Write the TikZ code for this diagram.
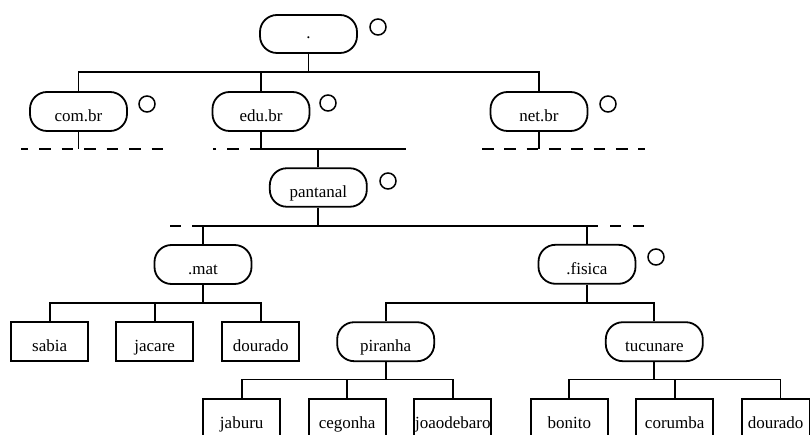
\documentclass[tikz,border=0pt]{standalone}
\usepackage{fontspec}
\setmainfont{Liberation Serif}
\begin{document}
\begin{tikzpicture}[x=1pt,y=-1pt,
  ln/.style={line width=1.8pt},
  rbox/.style={draw,line width=1.8pt,rounded corners=17pt,minimum width=97pt,minimum height=39pt,
    inner sep=0pt,text height=20pt,text depth=0pt,font=\fontsize{17}{20}\selectfont},
  sbox/.style={draw,line width=1.8pt,minimum width=77pt,minimum height=39pt,
    inner sep=0pt,text height=20pt,text depth=0pt,font=\fontsize{17}{20}\selectfont},
  ring/.style={draw,circle,line width=1.5pt,minimum size=16pt,inner sep=0pt},
  dsh/.style={line width=1.8pt,dash pattern=on 11.5pt off 11pt}]
\clip (0,0) rectangle (811,435);
% level 0
\node[rbox,minimum height=38pt,text height=10pt] (root) at (308.5,34) {.};
\node[ring] (d0) at (378,27) {};
% level 1
\node[rbox] (com) at (78.5,111.5) {com.br};
\node[ring] (dcom) at (147,104) {};
\node[rbox] (edu) at (261,111.5) {edu.br};
\node[ring] (dedu) at (328,103) {};
\node[rbox] (net) at (539,111.5) {net.br};
\node[ring] (dnet) at (608,104) {};
\coordinate (j0) at (309,72);
\draw[ln] (root.south) -- (root.south |- j0);
\draw[ln] (com.north) -- (com.north |- j0) -- (net.north |- j0) -- (net.north);
\draw[ln] (edu.north) -- (edu.north |- j0);
% level 1 bottom lines
\coordinate (comL) at (21,149);
\coordinate (comR) at (165,149);
\coordinate (eduL) at (212.7,149);
\coordinate (eduR) at (406,149);
\coordinate (netL) at (482,149);
\coordinate (netR) at (645,149);
\draw[ln] (com.south) -- (com.south |- comL);
\draw[dsh,dash phase=4.5pt] (comL) -- (comR);
\draw[ln] (edu.south) -- (edu.south |- eduL) -- (eduR);
\draw[dsh] (edu.south |- eduL) -- (eduL);
\draw[ln] (net.south) -- (net.south |- netL);
\draw[dsh,dash pattern=on 11.7pt off 10.6pt] (netL) -- (netR);
% pantanal
\node[rbox,minimum height=38.5pt] (pan) at (318.3,187.5) {pantanal};
\node[ring] (dpan) at (388,181) {};
\draw[ln] (pan.north) -- (pan.north |- eduR);
% level 3
\node[rbox] (mat) at (203,264.5) {.mat};
\node[rbox] (fis) at (587,264.3) {.fisica};
\node[ring] (dfis) at (656,257) {};
\coordinate (j2) at (318.3,226);
\coordinate (pL) at (169,226);
\coordinate (pR) at (645,226);
\coordinate (pRs) at (598,226);
\draw[ln] (pan.south) -- (j2);
\draw[ln] (mat.north) -- (mat.north |- j2) -- (pRs);
\draw[ln] (fis.north) -- (fis.north |- j2);
\draw[dsh,dash pattern=on 11pt off 11.5pt] (mat.north |- j2) -- (pL);
\draw[dsh,dash pattern=on 11pt off 12pt,dash phase=11pt] (pRs) -- (pR);
% .mat children
\node[sbox] (sabia) at (49.7,341.7) {sabia};
\node[sbox] (jacare) at (154.7,341.7) {jacare};
\node[sbox] (dour1) at (260.8,341.7) {dourado};
\coordinate (j3) at (203,303);
\draw[ln] (mat.south) -- (j3);
\draw[ln] (sabia.north) -- (sabia.north |- j3) -- (dour1.north |- j3) -- (dour1.north);
\draw[ln] (jacare.north) -- (jacare.north |- j3);
% .fisica children
\node[rbox] (pir) at (385.7,341.7) {piranha};
\node[rbox] (tuc) at (654.3,341.7) {tucunare};
\coordinate (j4) at (587,303);
\draw[ln] (fis.south) -- (j4);
\draw[ln] (pir.north) -- (pir.north |- j4) -- (tuc.north |- j4) -- (tuc.north);
% piranha children
\node[sbox] (jab) at (241.7,418.8) {jaburu};
\node[sbox] (ceg) at (347.2,418.8) {cegonha};
\node[sbox] (joa) at (452.8,418.8) {joaodebaro};
\coordinate (j5) at (385.7,379.5);
\draw[ln] (pir.south) -- (j5);
\draw[ln] (jab.north) -- (jab.north |- j5) -- (joa.north |- j5) -- (joa.north);
\draw[ln] (ceg.north) -- (ceg.north |- j5);
% tucunare children
\node[sbox] (bon) at (569.3,418.8) {bonito};
\node[sbox] (cor) at (674.7,418.8) {corumba};
\node[sbox,minimum width=67.8pt] (dour2) at (775.6,418.8) {dourado};
\coordinate (j6) at (654.3,379.5);
\coordinate (k6) at (780.5,379.5);
\draw[ln] (tuc.south) -- (j6);
\draw[ln] (bon.north) -- (bon.north |- j6) -- (k6) -- (k6 |- dour2.north);
\draw[ln] (cor.north) -- (cor.north |- j6);
\end{tikzpicture}
\end{document}
